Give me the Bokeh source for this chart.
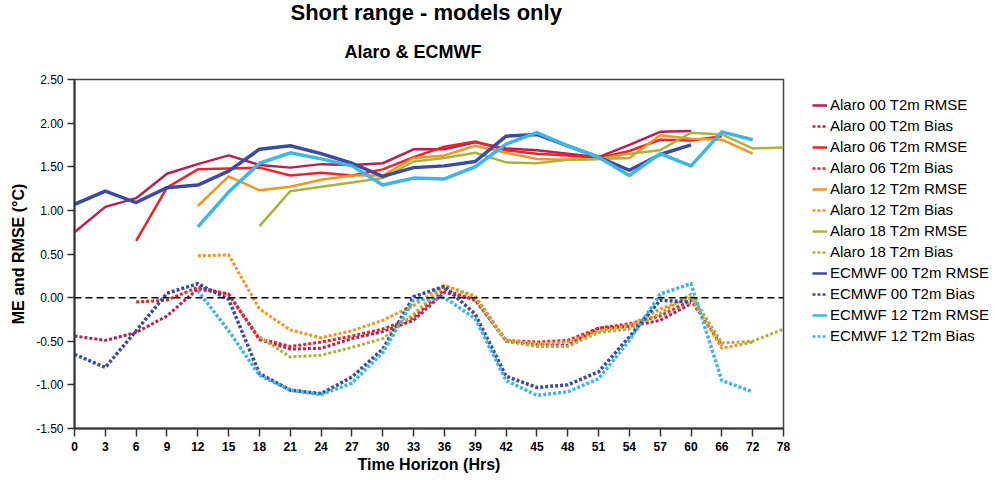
import numpy as np
from bokeh.plotting import figure
from bokeh.layouts import row
from bokeh.models import (Range1d, FixedTicker, PrintfTickFormatter, Span, Legend,
                          LegendItem, Title)
from bokeh.embed import file_html
from bokeh.resources import INLINE

N = None
hours = ["0", "3", "6", "9", "12", "15", "18", "21", "24", "27", "30", "33", "36",
         "39", "42", "45", "48", "51", "54", "57", "60", "66", "72", "78"]

alaro00_rmse = [0.75, 1.04, 1.14, 1.42, 1.53, 1.63, 1.52, 1.49, 1.53, 1.52, 1.54, 1.70,
                1.70, 1.78, 1.71, 1.69, 1.65, 1.61, 1.75, 1.90, 1.91, N, N, N]
alaro00_bias = [-0.44, -0.49, -0.40, -0.21, 0.10, 0.04, -0.48, -0.59, -0.58, -0.47, -0.39,
                -0.26, 0.06, -0.02, -0.50, -0.54, -0.55, -0.35, -0.33, -0.26, -0.07, N, N, N]
alaro06_rmse = [N, N, 0.65, 1.26, 1.47, 1.48, 1.49, 1.40, 1.43, 1.40, 1.47, 1.61, 1.73,
                1.79, 1.69, 1.65, 1.63, 1.60, 1.68, 1.81, 1.80, 1.85, N, N]
alaro06_bias = [N, N, -0.05, -0.03, 0.12, 0.04, -0.47, -0.56, -0.51, -0.44, -0.36, -0.23,
                0.09, -0.03, -0.49, -0.51, -0.49, -0.35, -0.30, -0.21, -0.03, -0.55, N, N]
alaro12_rmse = [N, N, N, N, 1.05, 1.39, 1.23, 1.27, 1.35, 1.40, 1.40, 1.60, 1.63, 1.74,
                1.66, 1.59, 1.58, 1.59, 1.60, 1.86, 1.82, 1.81, 1.65, N]
alaro12_bias = [N, N, N, N, 0.48, 0.49, -0.13, -0.37, -0.46, -0.38, -0.26, -0.09, 0.14,
                0.02, -0.49, -0.53, -0.51, -0.38, -0.32, -0.13, 0.00, -0.58, -0.51, N]
alaro18_rmse = [N, N, N, N, N, N, 0.82, 1.22, 1.27, 1.32, 1.37, 1.56, 1.60, 1.66, 1.55,
                1.54, 1.58, 1.59, 1.65, 1.69, 1.89, 1.87, 1.71, 1.72]
alaro18_bias = [N, N, N, N, N, N, -0.45, -0.68, -0.66, -0.57, -0.47, -0.19, 0.14, 0.00,
                -0.50, -0.56, -0.56, -0.40, -0.36, -0.18, 0.04, -0.52, -0.50, -0.36]
ecmwf00_rmse = [1.07, 1.22, 1.09, 1.26, 1.29, 1.45, 1.70, 1.74, 1.65, 1.54, 1.39, 1.49,
                1.51, 1.56, 1.85, 1.87, 1.74, 1.61, 1.46, 1.64, 1.75, N, N, N]
ecmwf00_bias = [-0.65, -0.80, -0.38, 0.05, 0.16, -0.02, -0.87, -1.06, -1.10, -0.91, -0.59,
                0.01, 0.13, -0.19, -0.90, -1.03, -1.00, -0.85, -0.45, -0.03, -0.05, N, N, N]
ecmwf12_rmse = [N, N, N, N, 0.81, 1.21, 1.54, 1.66, 1.59, 1.51, 1.29, 1.37, 1.36, 1.50,
                1.76, 1.89, 1.74, 1.61, 1.40, 1.65, 1.51, 1.90, 1.81, N]
ecmwf12_bias = [N, N, N, N, 0.08, -0.38, -0.89, -1.06, -1.11, -0.98, -0.63, -0.03, 0.00,
                -0.24, -0.95, -1.12, -1.08, -0.93, -0.49, 0.04, 0.16, -0.95, -1.08, N]

y_ticks = [-1.5, -1.0, -0.5, 0.0, 0.5, 1.0, 1.5, 2.0, 2.5]

series = [
    ("Alaro 00 T2m RMSE", alaro00_rmse, "#BE1E4F", False, 2.5),
    ("Alaro 00 T2m Bias", alaro00_bias, "#BE1E4F", True, 3),
    ("Alaro 06 T2m RMSE", alaro06_rmse, "#EE2229", False, 2.5),
    ("Alaro 06 T2m Bias", alaro06_bias, "#EE2229", True, 3),
    ("Alaro 12 T2m RMSE", alaro12_rmse, "#F7941D", False, 2.5),
    ("Alaro 12 T2m Bias", alaro12_bias, "#F7941D", True, 3),
    ("Alaro 18 T2m RMSE", alaro18_rmse, "#ABB43A", False, 2.5),
    ("Alaro 18 T2m Bias", alaro18_bias, "#ABB43A", True, 3),
    ("ECMWF 00 T2m RMSE", ecmwf00_rmse, "#3C4BA2", False, 3.5),
    ("ECMWF 00 T2m Bias", ecmwf00_bias, "#3C4BA2", True, 3.5),
    ("ECMWF 12 T2m RMSE", ecmwf12_rmse, "#3DB6EA", False, 3.5),
    ("ECMWF 12 T2m Bias", ecmwf12_bias, "#3DB6EA", True, 3.5),
]

FONT = "Liberation Sans"

p = figure(width=798, height=480, output_backend="svg", toolbar_location=None,
           x_range=Range1d(0, len(hours) - 1), y_range=Range1d(-1.5, 2.5),
           min_border_left=74, min_border_right=15, min_border_top=79,
           min_border_bottom=52, title=None)
p.background_fill_color = "white"
p.border_fill_color = "white"
p.outline_line_color = "#444444"
p.outline_line_width = 1.5
p.xgrid.visible = False
p.ygrid.visible = False

# legend-only figure on the right (its ranges keep the series out of view)
lg = figure(width=200, height=480, output_backend="svg", toolbar_location=None,
            x_range=Range1d(1000, 1001), y_range=Range1d(1000, 1001),
            x_axis_type=None, y_axis_type=None, min_border=0, title=None)
lg.outline_line_color = None
lg.xgrid.visible = False
lg.ygrid.visible = False
lg.background_fill_color = "white"
lg.border_fill_color = "white"

xs = np.arange(len(hours))
items = []
for name, vals, color, dotted, w in series:
    ys = np.array([np.nan if v is None else v for v in vals], dtype=float)
    kw = dict(line_color=color, line_width=w, line_join="round")
    if dotted:
        kw.update(line_dash="3 2", line_cap="butt")
    p.line(xs, ys, **kw)
    kw2 = dict(kw)
    kw2["line_width"] = 2.5
    r = lg.line(xs, ys, **kw2)
    items.append(LegendItem(label=name, renderers=[r]))

zero = Span(location=0, dimension="width", line_color="black", line_width=1.5,
            line_dash="7 4")
p.add_layout(zero)

# axes
p.xaxis.ticker = FixedTicker(ticks=list(range(len(hours))))
p.xaxis.major_label_overrides = {i: h for i, h in enumerate(hours)}
p.xaxis.minor_tick_line_color = None
p.xaxis.major_tick_in = 0
p.xaxis.major_tick_out = 8
p.xaxis.axis_line_width = 2
p.xaxis.axis_line_color = "#333333"
p.xaxis.major_tick_line_width = 1.5
p.xaxis.major_tick_line_color = "#333333"
p.xaxis.major_label_text_font = FONT
p.xaxis.major_label_text_font_style = "bold"
p.xaxis.major_label_text_font_size = "12px"
p.xaxis.major_label_text_color = "black"
p.xaxis.major_label_standoff = 5
p.xaxis.axis_label = "Time Horizon (Hrs)"
p.xaxis.axis_label_text_font = FONT
p.xaxis.axis_label_text_font_style = "bold"
p.xaxis.axis_label_text_font_size = "16px"
p.xaxis.axis_label_text_color = "black"
p.xaxis.axis_label_standoff = 2

p.yaxis.ticker = FixedTicker(ticks=y_ticks)
p.yaxis.formatter = PrintfTickFormatter(format="%.2f")
p.yaxis.minor_tick_line_color = None
p.yaxis.major_tick_in = 0
p.yaxis.major_tick_out = 7
p.yaxis.axis_line_width = 2
p.yaxis.axis_line_color = "#333333"
p.yaxis.major_tick_line_width = 1.5
p.yaxis.major_tick_line_color = "#333333"
p.yaxis.major_label_text_font = FONT
p.yaxis.major_label_text_font_size = "12px"
p.yaxis.major_label_text_color = "black"
p.yaxis.major_label_standoff = 4
p.yaxis.axis_label = "ME and RMSE (°C)"
p.yaxis.axis_label_text_font = FONT
p.yaxis.axis_label_text_font_style = "bold"
p.yaxis.axis_label_text_font_size = "16px"
p.yaxis.axis_label_text_color = "black"
p.yaxis.axis_label_standoff = 6

legend = Legend(items=items, location=(14, 84), border_line_color=None,
                background_fill_alpha=0, label_text_font=FONT,
                label_text_font_size="15px", label_text_color="black",
                glyph_width=15, glyph_height=14, label_standoff=3, spacing=4,
                padding=0, margin=0, label_height=17)
lg.add_layout(legend, "center")

sub = Title(text="Alaro & ECMWF", align="left", text_font=FONT,
            text_font_style="bold", text_font_size="18px", text_color="black",
            offset=270, standoff=35)
main = Title(text="Short range - models only", align="left", text_font=FONT,
             text_font_style="bold", text_font_size="22px", text_color="black",
             offset=216, standoff=-5)
p.add_layout(sub, "above")
p.add_layout(main, "above")

layout = row(p, lg, spacing=0)
open("out.html", "w").write(file_html(layout, INLINE))
